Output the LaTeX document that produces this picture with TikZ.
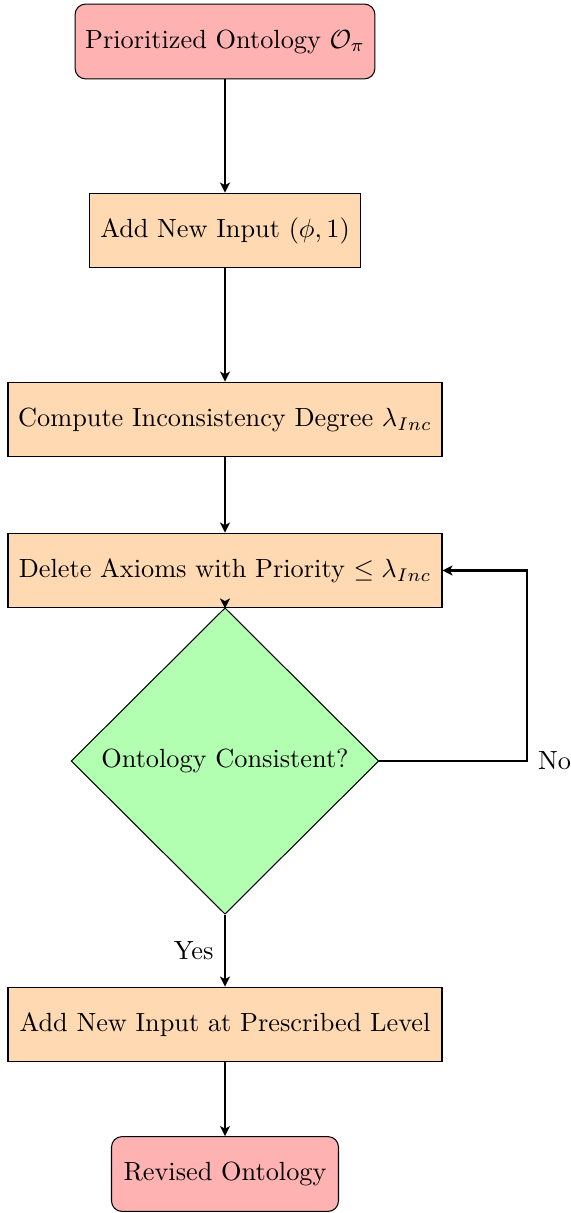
\documentclass[tikz,border=0pt]{standalone}
\usetikzlibrary{shapes.geometric,arrows.meta}
\tikzset{
  startstop/.style={rectangle, rounded corners, draw=black, fill=red!30, minimum height=1cm, text centered},
  process/.style={rectangle, draw=black, fill=orange!30, minimum height=1cm, text centered},
  decision/.style={diamond, draw=black, fill=green!30, inner sep=0pt, minimum width=117pt, minimum height=116.5pt, text centered},
  arrow/.style={thick, -{Stealth[length=3.8pt, width=3.8pt, inset=1pt]}},
}
\begin{document}
\begin{tikzpicture}[x=0.3802pt, y=-0.3802pt]
\useasboundingbox (0,0) rectangle (571,1213);
\node[startstop, minimum width=114pt] (start) at (225,41.5) {Prioritized Ontology $\mathcal{O}_\pi$};
\node[process, minimum width=102.7pt] (add) at (225,230.5) {Add New Input $(\phi,1)$};
\node[process, minimum width=165pt] (comp) at (225,419.5) {Compute Inconsistency Degree $\lambda_{Inc}$};
\node[process, minimum width=165pt] (del) at (225,570.5) {Delete Axioms with Priority $\leq \lambda_{Inc}$};
\node[decision] (dec) at (225,761) {Ontology Consistent?};
\node[process, minimum width=165pt] (pres) at (225,1024.5) {Add New Input at Prescribed Level};
\node[startstop, minimum width=86.3pt] (stop) at (225,1174) {Revised Ontology};
\coordinate (corner) at (527,761);
\draw[arrow] (start) -- (add);
\draw[arrow] (add) -- (comp);
\draw[arrow] (comp) -- (del);
\draw[arrow] (dec.north) -- (del.south);
\draw[arrow] (dec.east) -- (corner) node[anchor=west, inner sep=3.8pt] {No} |- (del.east);
\draw[arrow] (dec.south) -- node[anchor=east, inner sep=4pt] {Yes} (pres.north);
\draw[arrow] (pres) -- (stop);
\end{tikzpicture}
\end{document}
